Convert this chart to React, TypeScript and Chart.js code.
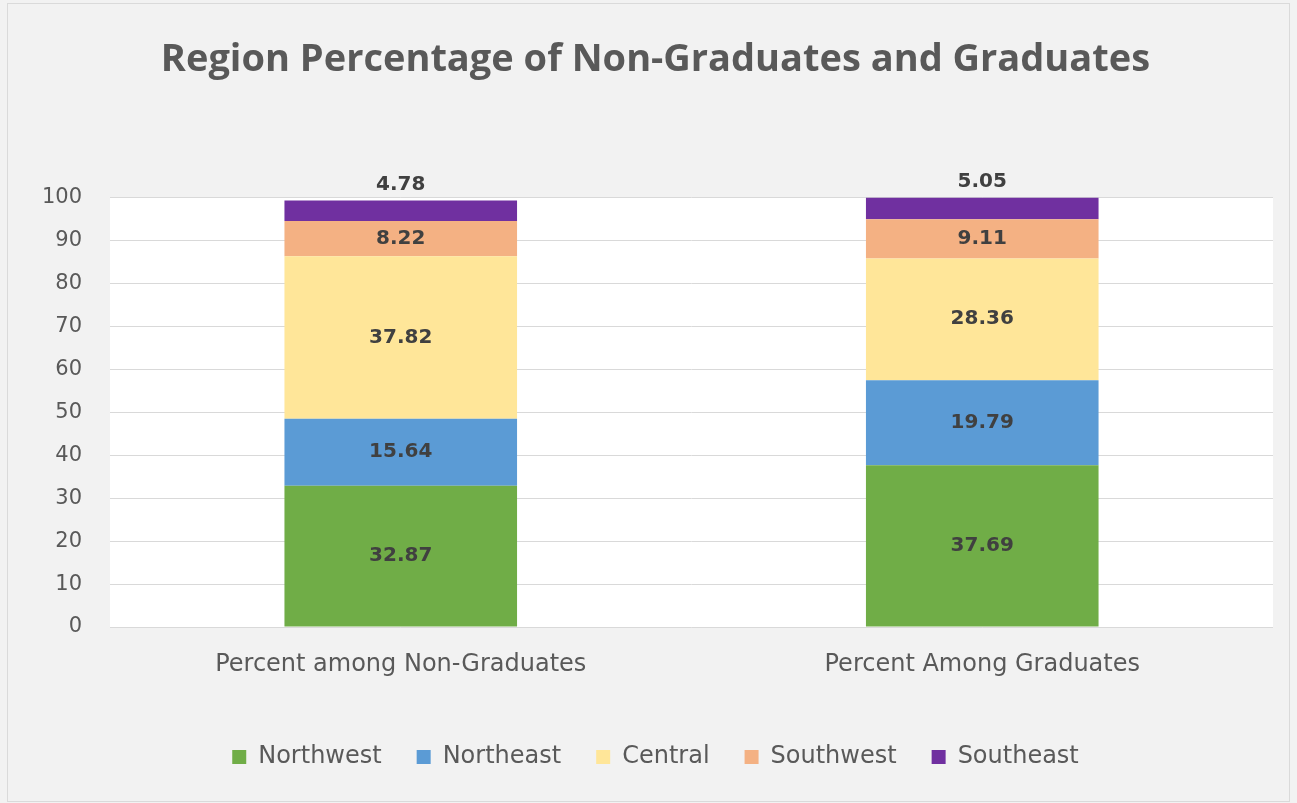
import React, { useEffect, useRef } from "react";
import { Chart, registerables } from "chart.js";

Chart.register(...registerables);

const categories = ["Percent among Non-Graduates", "Percent Among Graduates"];
const northwest = [32.87, 37.69];
const northeast = [15.64, 19.79];
const central = [37.82, 28.36];
const southwest = [8.22, 9.11];
const southeast = [4.78, 5.05];
const seriesNames = ["Northwest", "Northeast", "Central", "Southwest", "Southeast"];
const seriesColors = ["#70ad47", "#5b9bd5", "#ffe699", "#f4b183", "#7030a0"];
const titleText = "Region Percentage of Non-Graduates and Graduates";

const FONT = "'DejaVu Sans', sans-serif";

const bgPlugin = {
  id: "bgPlugin",
  beforeDraw(chart: any) {
    const { ctx, chartArea, width, height } = chart;
    ctx.save();
    ctx.fillStyle = "#f2f2f2";
    ctx.fillRect(0, 0, width, height);
    ctx.strokeStyle = "#dadada";
    ctx.lineWidth = 1;
    ctx.strokeRect(7.5, 3.5, width - 15, height - 5);
    ctx.fillStyle = "#ffffff";
    ctx.fillRect(chartArea.left, chartArea.top, chartArea.right - chartArea.left, chartArea.bottom - chartArea.top);
    ctx.restore();
  },
};

const labelPlugin = {
  id: "labelPlugin",
  afterDatasetsDraw(chart: any) {
    const { ctx } = chart;
    ctx.save();
    ctx.font = `bold 20px ${FONT}`;
    ctx.fillStyle = "#404040";
    ctx.textAlign = "center";
    ctx.textBaseline = "middle";
    const n = chart.data.datasets.length;
    chart.data.datasets.forEach((ds: any, di: number) => {
      const meta = chart.getDatasetMeta(di);
      meta.data.forEach((el: any, i: number) => {
        const v = ds.data[i];
        const txt = v.toFixed(2);
        if (di === n - 1) {
          ctx.fillText(txt, el.x, el.y - 16);
        } else {
          ctx.fillText(txt, el.x, (el.y + el.base) / 2);
        }
      });
    });
    ctx.restore();
  },
};

export default function App() {
  const ref = useRef<HTMLCanvasElement>(null);
  useEffect(() => {
    document.body.style.margin = "0";
    const seriesData = [northwest, northeast, central, southwest, southeast];
    const chart = new Chart(ref.current!, {
      type: "bar",
      data: {
        labels: categories,
        datasets: seriesNames.map((name, i) => ({
          label: name,
          data: seriesData[i],
          backgroundColor: seriesColors[i],
          borderWidth: 0,
          categoryPercentage: 1,
          barPercentage: 0.4,
        })),
      },
      options: {
        responsive: false,
        animation: false,
        layout: { padding: { left: 38, right: 24, top: 0, bottom: 24 } },
        plugins: {
          title: {
            display: true,
            text: titleText,
            color: "#595959",
            font: { family: "'Open Sans', sans-serif", size: 38, weight: "bold" },
            padding: { top: 37, bottom: 115 },
          },
          legend: {
            position: "bottom",
            labels: {
              color: "#595959",
              font: { family: FONT, size: 24 },
              boxWidth: 14,
              boxHeight: 14,
              padding: 35,
            },
          },
          tooltip: { enabled: false },
        },
        scales: {
          x: {
            stacked: true,
            grid: { display: false, drawTicks: false },
            border: { display: false },
            ticks: { color: "#595959", font: { family: FONT, size: 24 }, padding: 23 },
            afterFit: (axis: any) => {
              axis.height = 83;
            },
          },
          y: {
            stacked: true,
            min: 0,
            max: 100,
            grid: { color: "#d9d9d9", drawTicks: false },
            border: { display: false },
            ticks: { stepSize: 10, color: "#595959", font: { family: FONT, size: 21 }, padding: 28 },
            afterFit: (axis: any) => {
              axis.width = 72;
            },
          },
        },
      },
      plugins: [bgPlugin, labelPlugin],
    });
    return () => chart.destroy();
  }, []);
  return (
    <div style={{ position: "fixed", left: 0, top: 0, width: 1297, height: 803 }}>
      <canvas ref={ref} width={1297} height={803} />
    </div>
  );
}
